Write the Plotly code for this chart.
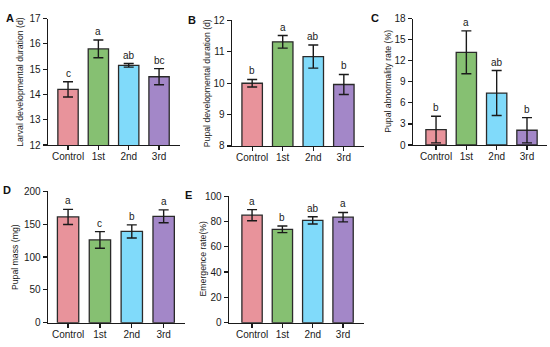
import plotly.graph_objects as go

categories = ["Control", "1st", "2nd", "3rd"]
bar_colors = ["#E8939B", "#86C072", "#80DAFA", "#A387C8"]

larval_mean = [14.2, 15.8, 15.15, 14.7]
larval_err = [0.3, 0.35, 0.07, 0.32]
larval_letters = ["c", "a", "ab", "bc"]

pupal_mean = [10.0, 11.32, 10.85, 9.96]
pupal_err = [0.12, 0.2, 0.37, 0.32]
pupal_letters = ["b", "a", "ab", "b"]

abn_mean = [2.2, 13.2, 7.4, 2.1]
abn_err = [1.9, 3.05, 3.2, 1.8]
abn_letters = ["b", "a", "ab", "b"]

mass_mean = [161, 126, 139, 162]
mass_err = [11.5, 12.7, 10.0, 9.8]
mass_letters = ["a", "c", "b", "a"]

emerg_mean = [85, 73.8, 80.9, 83.4]
emerg_err = [4.4, 2.6, 2.9, 3.7]
emerg_letters = ["a", "b", "ab", "a"]

W, H = 550, 347
FONT = "Liberation Sans, Arial, sans-serif"

panels = [
    dict(lab="A", title="Larval developmental duration (d)", mean=larval_mean, err=larval_err,
         letters=larval_letters, xd=(48, 180), yd=(13, 144), yr=(12, 17), dt=1,
         xr=(-0.66, 3.69), lp=(10, 12), tx=20),
    dict(lab="B", title="Pupal developmental duration (d)", mean=pupal_mean, err=pupal_err,
         letters=pupal_letters, xd=(232, 364), yd=(15, 145), yr=(8, 12), dt=1,
         xr=(-0.66, 3.66), lp=(192, 14), tx=207),
    dict(lab="C", title="Pupal abnormality rate (%)", mean=abn_mean, err=abn_err,
         letters=abn_letters, xd=(413, 547), yd=(13, 144), yr=(0, 18), dt=3,
         xr=(-0.76, 3.66), lp=(375, 12), tx=388),
    dict(lab="D", title="Pupal mass (mg)", mean=mass_mean, err=mass_err,
         letters=mass_letters, xd=(48, 185), yd=(192, 328), yr=(0, 200), dt=50,
         xr=(-0.63, 3.67), lp=(7, 191), tx=15),
    dict(lab="E", title="Emergence rate(%)", mean=emerg_mean, err=emerg_err,
         letters=emerg_letters, xd=(229, 364), yd=(197, 328), yr=(0, 100), dt=20,
         xr=(-0.76, 3.69), lp=(188, 196), tx=203),
]

fig = go.Figure()
annotations = []
layout = {}

for i, p in enumerate(panels, start=1):
    xa = "x" if i == 1 else f"x{i}"
    ya = "y" if i == 1 else f"y{i}"
    xkey = "xaxis" if i == 1 else f"xaxis{i}"
    ykey = "yaxis" if i == 1 else f"yaxis{i}"
    fig.add_trace(go.Bar(
        x=categories, y=p["mean"], xaxis=xa, yaxis=ya,
        marker=dict(color=bar_colors, line=dict(color="#2a2a2a", width=1.3)),
        error_y=dict(type="data", array=p["err"], visible=True, color="#1a1a1a",
                     thickness=1.4, width=5),
        showlegend=False, hoverinfo="skip",
    ))
    y0 = 1 - p["yd"][1] / H
    y1 = 1 - p["yd"][0] / H
    layout[xkey] = dict(
        domain=[p["xd"][0] / W, p["xd"][1] / W], anchor=ya, type="category",
        range=list(p["xr"]), showline=True, linecolor="#1a1a1a", linewidth=1.4,
        ticks="outside", ticklen=4, tickwidth=1.2, tickcolor="#1a1a1a",
        tickfont=dict(size=10, color="#1a1a1a", family=FONT), showgrid=False,
        zeroline=False, fixedrange=True, ticklabelstandoff=-2,
    )
    layout[ykey] = dict(
        domain=[y0, y1], anchor=xa, range=list(p["yr"]), dtick=p["dt"],
        tick0=p["yr"][0], showline=True, linecolor="#1a1a1a", linewidth=1.4,
        ticks="outside", ticklen=4, tickwidth=1.2, tickcolor="#1a1a1a",
        tickfont=dict(size=10, color="#1a1a1a", family=FONT), showgrid=False,
        zeroline=False, fixedrange=True,
    )
    for c, m, e, t in zip(categories, p["mean"], p["err"], p["letters"]):
        annotations.append(dict(
            x=c, y=m + e, xref=xa, yref=ya, text=t, showarrow=False,
            yanchor="bottom", yshift=1, font=dict(size=10, color="#1a1a1a", family=FONT),
        ))
    annotations.append(dict(
        x=p["lp"][0] / W, y=1 - p["lp"][1] / H, xref="paper", yref="paper",
        text=f"<b>{p['lab']}</b>", showarrow=False, xanchor="center", yanchor="middle",
        font=dict(size=11, color="#111", family=FONT),
    ))
    annotations.append(dict(
        x=p["tx"] / W, y=(y0 + y1) / 2, xref="paper", yref="paper",
        text=p["title"], showarrow=False, textangle=-90, xanchor="center", yanchor="middle",
        font=dict(size=8.7, color="#1a1a1a", family=FONT),
    ))

fig.update_layout(
    width=W, height=H, margin=dict(l=0, r=0, t=0, b=0),
    paper_bgcolor="white", plot_bgcolor="white",
    bargap=0.33, annotations=annotations, **layout,
)

fig.write_html(
    "out.html",
    config={"displayModeBar": False, "staticPlot": True},
    post_script="document.body.style.margin='0';document.body.style.overflow='hidden';",
)
